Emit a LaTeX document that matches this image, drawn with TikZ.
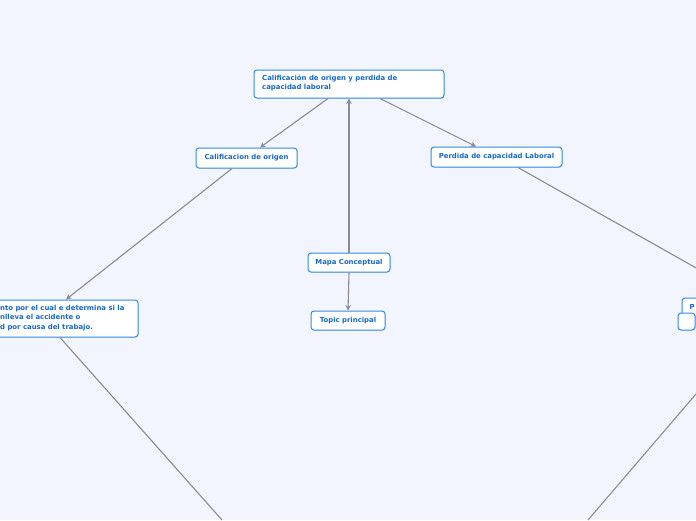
\documentclass[tikz,border=0pt]{standalone}
\usepackage{fontspec}
\setmainfont{DejaVu Sans}
\usetikzlibrary{arrows.meta,shadows}
\definecolor{bg}{RGB}{242,245,253}
\definecolor{txtblue}{RGB}{22,104,204}
\definecolor{brdblue}{RGB}{52,138,230}
\definecolor{linegray}{RGB}{136,138,150}
\tikzset{
  box/.style={draw=brdblue, line width=1pt, fill=white, rounded corners=3pt,
    inner sep=0pt, font=\fontsize{6.9}{9}\selectfont\bfseries, text=txtblue,
    drop shadow={shadow xshift=0.6pt, shadow yshift=-0.8pt, opacity=0.18}},
  conn/.style={draw=linegray, line width=1.1pt},
  arr/.style={conn, -{Stealth[length=5.5pt,width=5.5pt]}},
  lbl/.style={inner sep=0pt, font=\fontsize{6.9}{9.3}\selectfont\bfseries, text=txtblue, align=left, anchor=north west}
}
\begin{document}
\begin{tikzpicture}[x=1pt,y=-1pt]
\fill[bg] (0,0) rectangle (696,520);
\useasboundingbox (0,0) rectangle (696,520);
\clip (0,0) rectangle (696,520);
% nodes
\node[box, minimum width=190pt, minimum height=28pt] (root) at (349,84) {};
\node[lbl] (roottext) at (262,74.5) {Calificación de origen y perdida de\\capacidad laboral};
\node[box, minimum width=101pt, minimum height=20pt] (calif) at (246.5,158) {Calificacion de origen};
\node[box, minimum width=131pt, minimum height=20pt] (perd) at (496.5,157) {Perdida de capacidad Laboral};
\node[box, minimum width=82pt, minimum height=19pt] (mapa) at (349,262.5) {Mapa Conceptual};
\node[box, minimum width=74pt, minimum height=19pt] (topic) at (348,320.5) {Topic principal};
\node[box, minimum width=160pt, minimum height=37pt] (left) at (58,318.5) {};
\node[lbl] (lefttext) at (0,305) {nto por el cual e determina si la\\nlleva el accidente o\\d por causa del trabajo.};
\node[box, minimum width=40pt, minimum height=18pt] (rbox) at (702,307) {};
\node[lbl] (rtext) at (689.5,304) {P};
\node[box, minimum width=17pt, minimum height=17pt] (rsmall) at (686.5,321.5) {};
% off-canvas ends
\coordinate (lbot) at (222,520);
\coordinate (rin) at (714,278);
\coordinate (rtop) at (714,373);
\coordinate (rbot) at (588,520);
% connectors
\draw[arr] (root.south -| 328,0) -- (calif.north -| 260,0);
\draw[arr] (root.south -| 380,0) -- (perd.north -| 476,0);
\draw[arr] (mapa.north) -- (root.south);
\draw[arr] (mapa.south) -- (topic.north);
\draw[arr] (calif.south -| 232,0) -- (left.north -| 66,0);
\draw[conn] (left.south -| 60,0) -- (lbot);
\draw[conn] (perd.south -| 518,0) -- (rin);
\draw[conn] (rtop) -- (rbot);
\end{tikzpicture}
\end{document}
